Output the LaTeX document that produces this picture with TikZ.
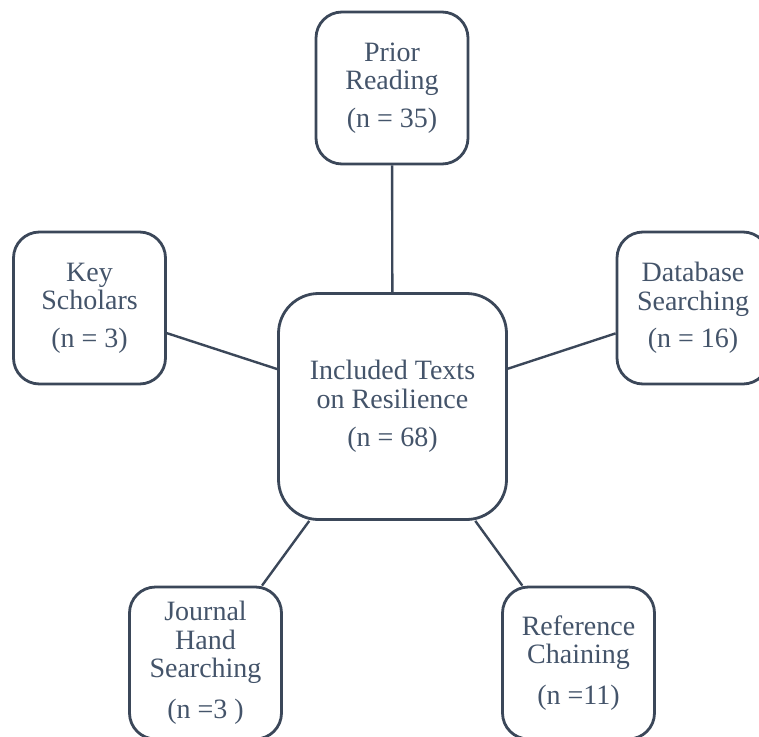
\documentclass[tikz,border=0pt]{standalone}
\usepackage{fontspec}
\setmainfont{Liberation Serif}
\definecolor{inkblue}{HTML}{44546A}
\definecolor{edgeblue}{HTML}{3B4759}
\begin{document}
\begin{tikzpicture}[x=1pt,y=-1pt,
  source/.style={draw=edgeblue, line width=2.8pt, rounded corners=26pt, fill=white,
    minimum width=152pt, minimum height=152pt, inner sep=0pt, align=center,
    text=inkblue, font=\fontsize{28}{28.5}\selectfont},
  hub/.style={source, minimum width=228pt, minimum height=226pt, rounded corners=40pt},
  link/.style={draw=edgeblue, line width=2.4pt}]
\useasboundingbox (0,0) rectangle (759,736);
\node[hub] (inc) at (392.5,406.5) {Included Texts\\on Resilience\\[10pt](n = 68)};
\node[source] (prior) at (392,88) {Prior\\Reading\\[9pt](n = 35)};
\node[source] (key) at (89.5,308) {Key\\Scholars\\[9pt](n = 3)};
\node[source] (db) at (693,308) {Database\\Searching\\[9pt](n = 16)};
\node[source] (jhs) at (205.5,663) {Journal\\Hand\\Searching\\[12pt](n =3 )};
\node[source] (ref) at (578.5,663) {Reference\\Chaining\\[12pt](n =11)};
\draw[link] (prior) -- (inc);
\draw[link] (key) -- (inc);
\draw[link] (db) -- (inc);
\draw[link] (jhs) -- (inc);
\draw[link] (ref) -- (inc);
\end{tikzpicture}
\end{document}
